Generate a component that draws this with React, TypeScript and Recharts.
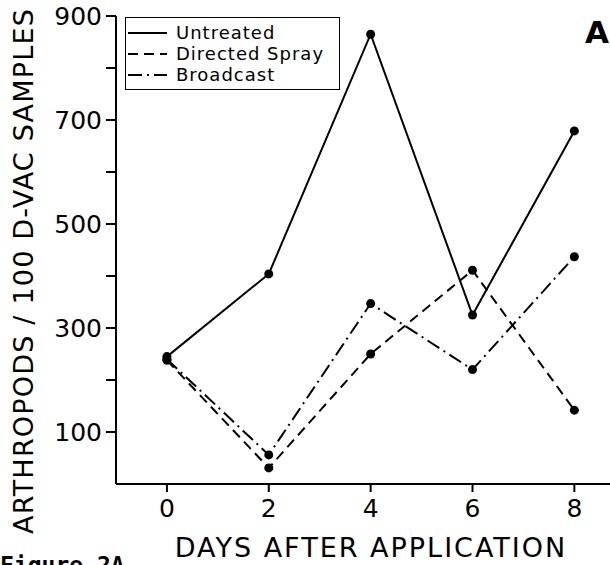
import { LineChart, Line, XAxis, YAxis, Legend } from "recharts";

const days = [0, 2, 4, 6, 8];
const untreated = [245, 404, 865, 325, 679];
const directedSpray = [238, 31, 250, 411, 142];
const broadcast = [240, 56, 347, 220, 437];

const yTicks = [100, 200, 300, 400, 500, 600, 700, 800, 900];
const xTicks = [0, 2, 4, 6, 8];

const seriesNames = ["Untreated", "Directed Spray", "Broadcast"];

const data = days.map((d, i) => ({
  day: d,
  untreated: untreated[i],
  directed: directedSpray[i],
  broadcast: broadcast[i],
}));

const font = "'DejaVu Sans', sans-serif";
const dashes = ["", "10 6", "14 5 2 5"];

function YTick({ x, y, payload }: any) {
  if (payload.value % 200 !== 100) return null;
  return (
    <text x={x} y={y} dy="0.36em" textAnchor="end" fontSize={25} fontFamily={font} fill="#000">
      {payload.value}
    </text>
  );
}

function XTick({ x, y, payload }: any) {
  return (
    <text x={x} y={y} dy="0.71em" textAnchor="middle" fontSize={25} fontFamily={font} fill="#000">
      {payload.value}
    </text>
  );
}

function LegendBox() {
  return (
    <div
      style={{
        border: "1.5px solid #000",
        width: 215,
        height: 73,
        boxSizing: "border-box",
        fontFamily: font,
        fontSize: 18,
        letterSpacing: 1,
        paddingTop: 4,
        background: "#fff",
      }}
    >
      {seriesNames.map((n, i) => (
        <div key={n} style={{ display: "flex", alignItems: "center", height: 21 }}>
          <svg width={48} height={10} style={{ marginLeft: 2 }}>
            <line x1={0} y1={5} x2={39} y2={5} stroke="#000" strokeWidth={2} strokeDasharray={dashes[i]} />
          </svg>
          <span>{n}</span>
        </div>
      ))}
    </div>
  );
}

export default function App() {
  return (
    <div style={{ position: "absolute", left: 0, top: 0, width: 610, height: 565, overflow: "hidden", background: "#fff" }}>
      <LineChart width={610} height={565} data={data} margin={{ top: 16, right: 0, bottom: 0, left: 0 }}>
        <XAxis
          dataKey="day"
          type="number"
          domain={[-1, 8.7]}
          ticks={xTicks}
          allowDataOverflow
          stroke="#000"
          strokeWidth={2}
          tickSize={8}
          tickMargin={7}
          tick={<XTick />}
          height={81}
          label={() => (
            <text x={371} y={557} textAnchor="middle" fontSize={27} letterSpacing={2} fontFamily={font} fill="#000">
              DAYS AFTER APPLICATION
            </text>
          )}
        />
        <YAxis
          type="number"
          domain={[0, 900]}
          ticks={yTicks}
          allowDataOverflow
          stroke="#000"
          strokeWidth={2}
          tickSize={10}
          tickMargin={4}
          tick={<YTick />}
          width={116}
          label={() => (
            <text
              x={23}
              y={271}
              transform="rotate(-90 23 271)"
              dy="0.36em"
              textAnchor="middle"
              fontSize={27}
              letterSpacing={1.2}
              fontFamily={font}
              fill="#000"
            >
              ARTHROPODS / 100 D-VAC SAMPLES
            </text>
          )}
        />
        <Legend
          layout="vertical"
          align="center"
          verticalAlign="middle"
          content={() => <LegendBox />}
          wrapperStyle={{ position: "absolute", left: 125, top: 17, width: 215 }}
        />
        <Line
          dataKey="untreated"
          name="Untreated"
          type="linear"
          stroke="#000"
          strokeWidth={2}
          dot={{ r: 4.5, fill: "#000", stroke: "none" }}
          isAnimationActive={false}
        />
        <Line
          dataKey="directed"
          name="Directed Spray"
          type="linear"
          stroke="#000"
          strokeWidth={2}
          strokeDasharray="10 6"
          dot={{ r: 4.5, fill: "#000", stroke: "none" }}
          isAnimationActive={false}
        />
        <Line
          dataKey="broadcast"
          name="Broadcast"
          type="linear"
          stroke="#000"
          strokeWidth={2}
          strokeDasharray="14 5 2 5"
          dot={{ r: 4.5, fill: "#000", stroke: "none" }}
          isAnimationActive={false}
        />
      </LineChart>
      <div
        style={{ position: "absolute", left: 585, top: 14, fontFamily: font, fontWeight: "bold", fontSize: 31, lineHeight: "36px" }}
      >
        A
      </div>
      <div
        style={{ position: "absolute", left: 0, top: 552, fontFamily: "'DejaVu Sans Mono', monospace", fontWeight: "bold", fontSize: 23, lineHeight: "26px", whiteSpace: "pre" }}
      >
        Figure 2A
      </div>
    </div>
  );
}
